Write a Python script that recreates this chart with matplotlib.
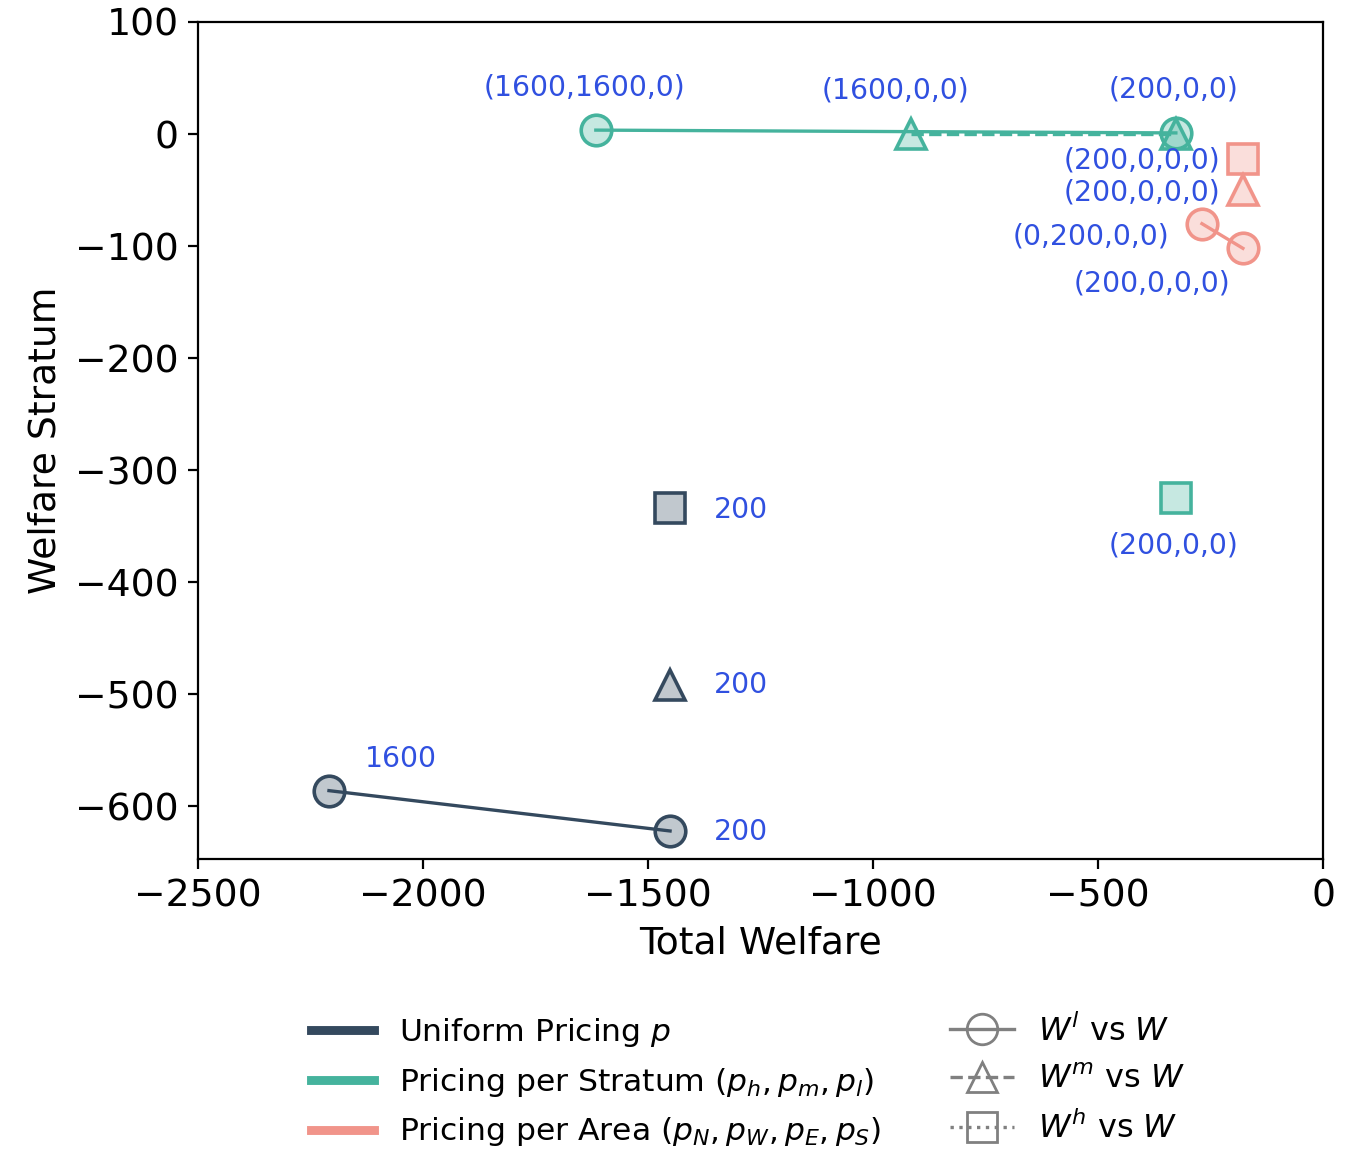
import matplotlib.pyplot as plt
from matplotlib.lines import Line2D
from matplotlib.colors import to_rgb

# ---- data ----
# uniform pricing p
uni_circ_W = [-2209, -1451]
uni_circ_Wl = [-586, -622]
uni_circ_lbl = ['1600', '200']
uni_tri_W = [-1451]
uni_tri_Wm = [-492]
uni_tri_lbl = ['200']
uni_sq_W = [-1451]
uni_sq_Wh = [-334]
uni_sq_lbl = ['200']

# pricing per stratum (p_h, p_m, p_l)
str_circ_W = [-1616, -327]
str_circ_Wl = [3.5, 1]
str_circ_lbl = ['(1600,1600,0)', '(200,0,0)']
str_tri_W = [-916, -327]
str_tri_Wm = [0, 0]
str_tri_lbl = ['(1600,0,0)', '']
str_sq_W = [-327]
str_sq_Wh = [-325]
str_sq_lbl = ['(200,0,0)']

# pricing per area (p_N, p_W, p_E, p_S)
area_circ_W = [-269, -178]
area_circ_Wl = [-80, -102]
area_circ_lbl = ['(0,200,0,0)', '(200,0,0,0)']
area_tri_W = [-178]
area_tri_Wm = [-50]
area_tri_lbl = ['(200,0,0,0)']
area_sq_W = [-178]
area_sq_Wh = [-22]
area_sq_lbl = ['(200,0,0,0)']

c_uni = '#34495e'
c_str = '#45b39d'
c_area = '#f1948a'
c_txt = '#3050e0'

plt.rcParams['font.size'] = 13.6

fig = plt.figure(figsize=(6.8, 5.755), dpi=200)
ax = fig.add_axes([0.1456, 0.2537, 0.8272, 0.7272])


def draw(W, Wx, lbl, offs, color, marker, ls):
    ax.plot(W, Wx, color=color, linestyle=ls, linewidth=1.2, marker=marker,
            markersize=11, markerfacecolor=(*to_rgb(color), 0.3),
            markeredgecolor=color, markeredgewidth=1.3)
    for x, y, t, o in zip(W, Wx, lbl, offs):
        if t:
            ax.annotate(t, (x, y), xytext=o, textcoords='offset points',
                        ha='center', va='center', color=c_txt, fontsize=10.2)


draw(uni_circ_W, uni_circ_Wl, uni_circ_lbl, [(26, 11.5), (25.5, -0.5)], c_uni, 'o', '-')
draw(uni_tri_W, uni_tri_Wm, uni_tri_lbl, [(25.5, 0)], c_uni, '^', '--')
draw(uni_sq_W, uni_sq_Wh, uni_sq_lbl, [(25.5, -0.5)], c_uni, 's', ':')

draw(str_circ_W, str_circ_Wl, str_circ_lbl, [(-4, 15.5), (-0.7, 15.5)], c_str, 'o', '-')
draw(str_tri_W, str_tri_Wm, str_tri_lbl, [(-5.4, 15.5), (-0.7, 15.5)], c_str, '^', '--')
draw(str_sq_W, str_sq_Wh, str_sq_lbl, [(-0.7, -17)], c_str, 's', ':')

draw(area_circ_W, area_circ_Wl, area_circ_lbl, [(-40, -4.7), (-32.8, -12.5)], c_area, 'o', '-')
draw(area_tri_W, area_tri_Wm, area_tri_lbl, [(-36.3, -0.7)], c_area, '^', '--')
draw(area_sq_W, area_sq_Wh, area_sq_lbl, [(-36.3, -0.7)], c_area, 's', ':')

ax.set_xlim(-2500, 0)
ax.set_ylim(-647, 100)
ax.set_xlabel('Total Welfare')
ax.set_ylabel('Welfare Stratum')

h1 = [Line2D([], [], color=c_uni, lw=3.2),
      Line2D([], [], color=c_str, lw=3.2),
      Line2D([], [], color=c_area, lw=3.2)]
l1 = ['Uniform Pricing $p$',
      'Pricing per Stratum $(p_h, p_m, p_l)$',
      'Pricing per Area $(p_N, p_W, p_E, p_S)$']
fig.legend(h1, l1, loc='upper left', bbox_to_anchor=(0.2195, 0.128), frameon=False,
           fontsize=11.3, handlelength=2.0, handletextpad=0.8, labelspacing=0.53,
           borderaxespad=0)

g = 'grey'
h2 = [Line2D([], [], color=g, ls='-', marker='o', markersize=11, mfc='none', lw=1.2),
      Line2D([], [], color=g, ls='--', marker='^', markersize=11, mfc='none', lw=1.2),
      Line2D([], [], color=g, ls=':', marker='s', markersize=11, mfc='none', lw=1.2)]
l2 = ['$W^l$ vs $W$', '$W^m$ vs $W$', '$W^h$ vs $W$']
fig.legend(h2, l2, loc='upper left', bbox_to_anchor=(0.689, 0.13), frameon=False,
           fontsize=11.5, handlelength=2.0, handletextpad=0.75, labelspacing=0.52,
           borderaxespad=0)

fig.savefig('out.png')
